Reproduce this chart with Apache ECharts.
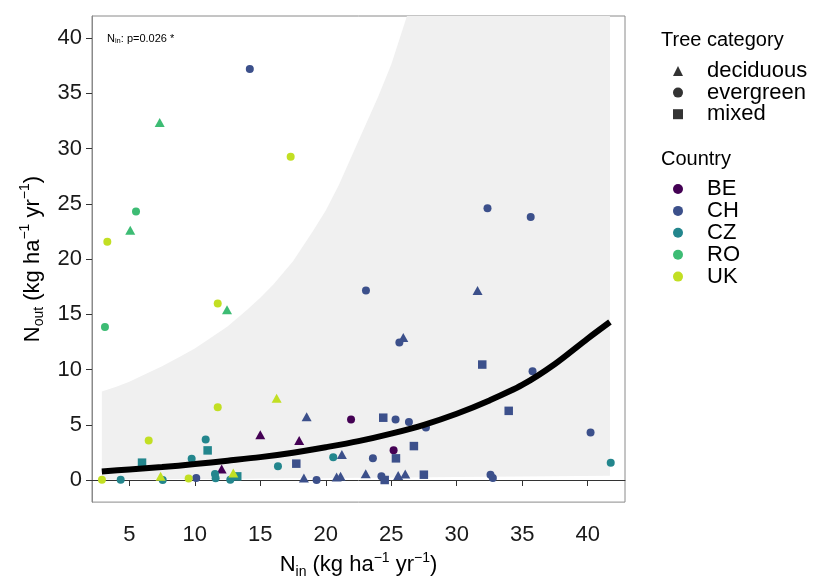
<!DOCTYPE html>
<html><head><meta charset="utf-8">
<script src="https://cdn.jsdelivr.net/npm/echarts@6/dist/echarts.min.js"></script>
<style>html,body{margin:0;padding:0;background:#fff}#c{width:815px;height:584px}</style>
</head><body><div id="c"></div>
<script>
// ---- data ----
const countries = ['BE','CH','CZ','RO','UK'];
const treeCats = ['deciduous','evergreen','mixed'];
// tree code: d = deciduous, e = evergreen, m = mixed
const beX = [15.0, 17.97, 12.05, 21.93, 25.18];
const beY = [4.1, 3.58, 1.0, 5.47, 2.69];
const beT = ['d','d','d','e','e'];
const chX = [14.2, 32.35, 35.65, 23.07, 31.59, 25.92, 25.62, 31.95, 35.79, 33.97, 40.22, 18.54, 24.39, 25.33, 26.35, 27.65, 26.73, 25.36, 23.6, 21.23, 17.75, 10.11, 18.33, 19.3, 20.83, 21.13, 23.05, 24.25, 24.5, 25.53, 26.07, 27.49, 32.58, 32.76];
const chY = [37.2, 24.6, 23.8, 17.15, 17.15, 12.9, 12.45, 10.45, 9.84, 6.26, 4.31, 5.73, 5.64, 5.47, 5.26, 4.75, 3.07, 1.96, 1.96, 2.31, 1.48, 0.19, 0.19, 0.01, 0.27, 0.35, 0.57, 0.33, 0.0, 0.41, 0.54, 0.48, 0.48, 0.18];
const chT = ['e','e','e','e','d','d','e','m','e','m','e','d','m','e','e','e','m','m','e','d','m','e','d','e','d','d','d','e','m','d','d','m','e','e'];
const czX = [4.34, 7.55, 5.97, 9.76, 10.83, 10.98, 11.54, 11.59, 13.24, 12.71, 16.35, 20.57, 41.76];
const czY = [0.03, 0.0, 1.57, 1.92, 3.66, 2.68, 0.54, 0.16, 0.33, 0.03, 1.25, 2.05, 1.57];
const czT = ['e','e','m','e','e','m','e','e','m','e','e','e','e'];
const roX = [7.32, 5.51, 5.07, 3.14, 12.46];
const roY = [32.35, 24.3, 22.6, 13.85, 15.4];
const roT = ['d','e','d','e','d'];
const ukX = [17.32, 3.32, 11.75, 16.25, 11.75, 6.48, 2.91, 7.39, 9.53, 12.94];
const ukY = [29.25, 21.57, 15.97, 7.4, 6.58, 3.58, 0.03, 0.33, 0.13, 0.63];
const ukT = ['e','e','e','d','e','e','e','d','e','d'];

// fitted curve and its confidence band
const fitX = [2.9, 5, 7.5, 10, 12.5, 15, 17.5, 20, 22.5, 25, 27.5, 30, 32.5, 35, 37.5, 40, 41.7];
const fitY = [0.77, 0.96, 1.17, 1.44, 1.75, 2.07, 2.47, 2.97, 3.52, 4.2, 5.0, 6.0, 7.2, 8.6, 10.5, 12.8, 14.3];
const ribX = [2.9, 4, 5, 6, 7.5, 9, 10, 11, 12.5, 14, 15, 16, 17.5, 19, 20, 21, 22.5, 24, 25, 26.2, 30, 35, 41.7];
const ribUpper = [8.0, 8.45, 8.9, 9.45, 10.3, 11.25, 11.9, 12.7, 13.9, 15.4, 16.5, 17.7, 19.8, 22.5, 24.4, 26.7, 30.7, 34.7, 37.6, 42, 42, 42, 42];
const ribLower = [0.05, 0.05, 0.06, 0.06, 0.07, 0.08, 0.09, 0.1, 0.11, 0.12, 0.13, 0.14, 0.15, 0.16, 0.17, 0.18, 0.2, 0.21, 0.22, 0.23, 0.27, 0.32, 0.38];

const xTicks = [5, 10, 15, 20, 25, 30, 35, 40];
const yTicks = [0, 5, 10, 15, 20, 25, 30, 35, 40];

// ---- styling ----
const colors = {BE:'#440154', CH:'#3C508B', CZ:'#23868D', RO:'#3DBC74', UK:'#C2DF23'};
const symOf = {d:'triangle', e:'circle', m:'rect'};
const sizeOf = {d:[10,9], e:8, m:8.5};
const FONT = 'Liberation Sans, Arial, sans-serif';

const raw = {BE:[beX,beY,beT], CH:[chX,chY,chT], CZ:[czX,czY,czT], RO:[roX,roY,roT], UK:[ukX,ukY,ukT]};

const series = [];
// confidence band as a polygon through the axes' scales
series.push({
  type:'custom', name:'_band', silent:true, z:1,
  data:[[20, 20]],
  renderItem:function(params, api){
    const pts = [];
    for (let i = 0; i < ribX.length; i++) pts.push(api.coord([ribX[i], ribUpper[i]]));
    for (let i = ribX.length - 1; i >= 0; i--) pts.push(api.coord([ribX[i], ribLower[i]]));
    return {type:'polygon', shape:{points:pts}, style:{fill:'#F0F0F0', stroke:null}};
  }
});
// points per country
countries.forEach(c=>{
  const [xs,ys,ts] = raw[c];
  series.push({
    type:'scatter', name:c, z:3,
    itemStyle:{color:colors[c], opacity:1},
    data: xs.map((x,i)=>({value:[x, ys[i]], symbol:symOf[ts[i]], symbolSize:sizeOf[ts[i]]}))
  });
});
// dummy series for tree-category legend
treeCats.forEach((t,i)=>{
  series.push({type:'scatter', name:t, data:[], symbol:['triangle','circle','rect'][i], itemStyle:{color:'#000'}});
});
// fitted line
series.push({
  type:'line', name:'_fit', data: fitX.map((x,i)=>[x, fitY[i]]), symbol:'none', smooth:0.3,
  lineStyle:{color:'#000', width:6}, z:5, silent:true
});

const supR = {fontSize:14, verticalAlign:'top', fontFamily:FONT, color:'#000'};
const subR = {fontSize:14, verticalAlign:'bottom', fontFamily:FONT, color:'#000'};
const mainR = {fontSize:22, lineHeight:28, fontFamily:FONT, color:'#000'};

const chart = echarts.init(document.getElementById('c'), null, {renderer:'canvas'});
chart.setOption({
  animation:false,
  backgroundColor:'#fff',
  grid:{left:92, right:190, top:16, bottom:71, show:true, borderColor:'#8a8a8a', borderWidth:1, backgroundColor:'transparent'},
  xAxis:{
    type:'value', min:2.15, max:42.85,
    axisLine:{show:true, lineStyle:{color:'#333', width:1}},
    axisTick:{show:true, length:6, lineStyle:{color:'#333'}, customValues:xTicks},
    axisLabel:{fontSize:22, color:'#1a1a1a', fontFamily:FONT, margin:22, customValues:xTicks},
    splitLine:{show:false},
    name:'{n|N}{sub|in}{n| (kg ha}{sup|−1}{n| yr}{sup|−1}{n|)}',
    nameLocation:'middle', nameGap:43,
    nameTextStyle:{rich:{n:mainR, sub:subR, sup:supR}}
  },
  yAxis:{
    type:'value', min:-2, max:42,
    axisLine:{show:true, lineStyle:{color:'#8a8a8a', width:1}},
    axisTick:{show:true, length:6, lineStyle:{color:'#333'}, customValues:yTicks},
    axisLabel:{fontSize:22, color:'#1a1a1a', fontFamily:FONT, margin:10, customValues:yTicks},
    splitLine:{show:false},
    name:'{n|N}{sub|out}{n| (kg ha}{sup|−1}{n| yr}{sup|−1}{n|)}',
    nameLocation:'middle', nameGap:44, nameRotate:90,
    nameTextStyle:{rich:{n:mainR, sub:subR, sup:supR}}
  },
  legend:[
    {
      orient:'vertical', left:668, top:55, itemWidth:10, itemHeight:10, itemGap:-0.4,
      selectedMode:false,
      textStyle:{fontSize:22, color:'#000', fontFamily:FONT, padding:[0,0,0,19]},
      data:[{name:'deciduous', icon:'triangle'},{name:'evergreen', icon:'circle'},{name:'mixed', icon:'rect'}]
    },
    {
      orient:'vertical', left:668, top:173, itemWidth:10, itemHeight:10, itemGap:-0.1,
      selectedMode:false,
      textStyle:{fontSize:22, color:'#000', fontFamily:FONT, padding:[0,0,0,19]},
      data:countries.map(c=>({name:c, icon:'circle'}))
    }
  ],
  graphic:[
    {type:'text', left:661, top:30, style:{text:'Tree category', fontSize:20, fontFamily:FONT, fill:'#000'}},
    {type:'text', left:661, top:149, style:{text:'Country', fontSize:20, fontFamily:FONT, fill:'#000'}},
    {type:'text', left:107, top:33, style:{
      text:'{n|N}{s|in}{n|: p=0.026 *}',
      rich:{n:{fontSize:11, lineHeight:13, fontFamily:FONT, fill:'#000'}, s:{fontSize:7.5, verticalAlign:'bottom', fontFamily:FONT, fill:'#000'}}
    }}
  ],
  series: series
});
</script></body></html>
